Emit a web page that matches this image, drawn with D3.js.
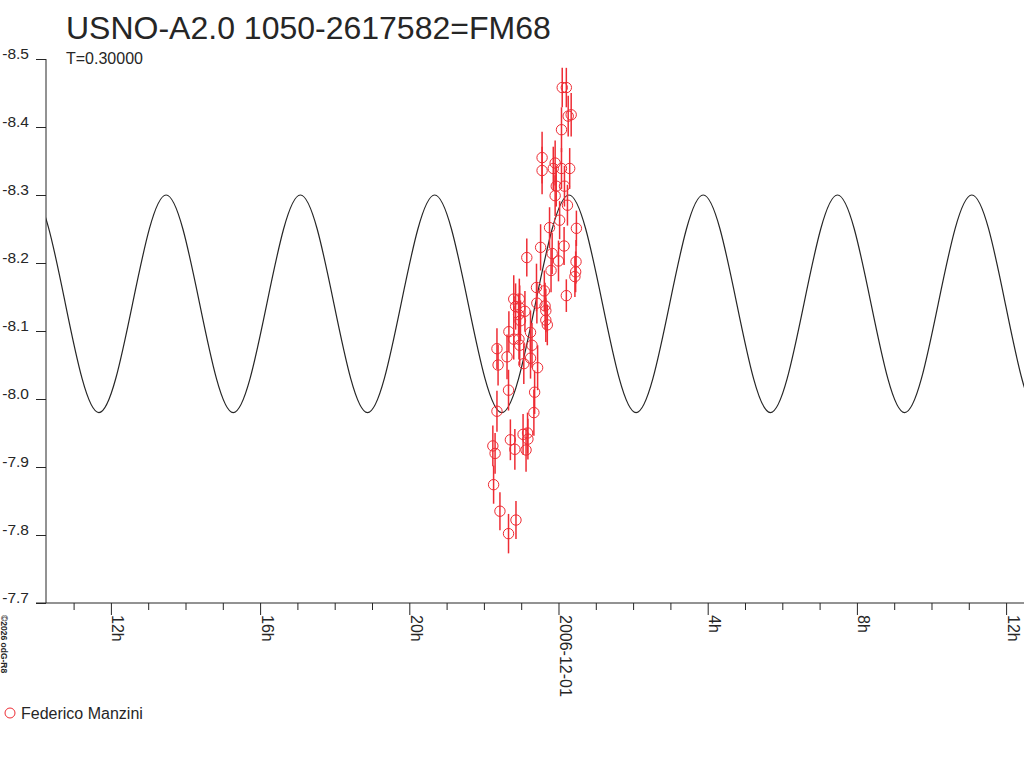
<!DOCTYPE html>
<html>
<head>
<meta charset="utf-8">
<script src="https://cdn.jsdelivr.net/npm/d3@7"></script>
<style>
  body { margin: 0; background: #fff; }
  svg { display: block; font-family: "Liberation Sans", Arial, sans-serif; }
</style>
</head>
<body>
<div id="chart"></div>
<script>
// observations: hours from 2006-12-01 00:00 UT, magnitude, error
const obsHours = [0.10, 0.21, 0.26, 0.34, 0.08, -0.44, -0.44, -0.09, -0.14, 0.08,
  0.30, -0.06, 0.16, -0.09, 0.24, 0.03, -0.24, 0.48, -0.48, 0.15,
  -0.17, -0.85, 0.00, 0.47, -0.20, 0.46, 0.44, -0.59, -0.38, 0.21,
  -1.20, -1.05, -0.58, -1.15, -0.36, -1.04, -0.90, -1.07, -0.34, -1.02,
  -0.34, -0.30, -1.33, -0.75, -1.20, -1.06, -0.71, -1.04, -1.65, -1.38,
  -0.75, -0.93, -1.62, -0.56, -1.34, -0.64, -1.65, -0.66, -1.29, -0.95,
  -0.83, -0.82, -1.76, -1.70, -1.17, -0.87, -1.74, -1.57, -1.14, -1.34];
const obsMags = [-8.458, -8.458, -8.416, -8.418, -8.396, -8.355, -8.336, -8.347, -8.339, -8.339,
  -8.339, -8.313, -8.313, -8.299, -8.285, -8.263, -8.252, -8.251, -8.223, -8.225,
  -8.214, -8.208, -8.203, -8.202, -8.189, -8.187, -8.180, -8.164, -8.159, -8.152,
  -8.147, -8.147, -8.141, -8.136, -8.137, -8.134, -8.129, -8.124, -8.130, -8.115,
  -8.116, -8.109, -8.099, -8.098, -8.088, -8.088, -8.079, -8.079, -8.074, -8.062,
  -8.060, -8.052, -8.050, -8.046, -8.013, -8.010, -7.982, -7.980, -7.940, -7.948,
  -7.950, -7.941, -7.931, -7.920, -7.926, -7.925, -7.874, -7.835, -7.822, -7.802];
const obsErrs = [0.029, 0.029, 0.030, 0.032, 0.033, 0.038, 0.035, 0.033, 0.032, 0.030,
  0.030, 0.030, 0.030, 0.030, 0.030, 0.028, 0.030, 0.026, 0.034, 0.028,
  0.030, 0.028, 0.030, 0.032, 0.032, 0.030, 0.030, 0.035, 0.030, 0.024,
  0.035, 0.030, 0.030, 0.034, 0.034, 0.033, 0.030, 0.030, 0.032, 0.030,
  0.032, 0.030, 0.030, 0.032, 0.030, 0.030, 0.033, 0.030, 0.030, 0.033,
  0.030, 0.030, 0.030, 0.033, 0.030, 0.032, 0.030, 0.034, 0.030, 0.030,
  0.030, 0.030, 0.030, 0.030, 0.030, 0.032, 0.028, 0.028, 0.028, 0.029];

// fitted lightcurve, read at quarter cycles (runs a little past both edges)
const fitHours = [-15.92, -15.02, -14.12, -13.22, -12.32, -11.42, -10.52, -9.62, -8.72, -7.82,
  -6.92, -6.02, -5.12, -4.22, -3.32, -2.42, -1.52, -0.62, 0.28, 1.18,
  2.08, 2.98, 3.88, 4.78, 5.68, 6.58, 7.48, 8.38, 9.28, 10.18,
  11.08, 11.98, 12.88, 13.78, 14.68];
const fitMags = [-7.98, -8.14, -8.30, -8.14, -7.98, -8.14, -8.30, -8.14, -7.98, -8.14,
  -8.30, -8.14, -7.98, -8.14, -8.30, -8.14, -7.98, -8.14, -8.30, -8.14,
  -7.98, -8.14, -8.30, -8.14, -7.98, -8.14, -8.30, -8.14, -7.98, -8.14,
  -8.30, -8.14, -7.98, -8.14, -8.30];

const yTicks = [-8.5, -8.4, -8.3, -8.2, -8.1, -8.0, -7.9, -7.8, -7.7];
const xMajorHours = [-12, -8, -4, 0, 4, 8, 12];
const xMajorLabels = ["12h", "16h", "20h", "2006-12-01", "4h", "8h", "12h"];

const title = "USNO-A2.0 1050-2617582=FM68";
const periodLabel = "T=0.30000";
const observer = "Federico Manzini";
const credit = "\u00a92026 odG-R8";

const width = 1024, height = 768;
const plotLeft = 46, plotRight = 1024, plotTop = 59, plotBottom = 603;
const red = "rgb(238,44,52)";
const ink = "#262626";
const epoch = Date.UTC(2006, 11, 1);
const toDate = h => new Date(epoch + h * 3600e3);

const svg = d3.select("#chart").append("svg")
  .attr("width", width)
  .attr("height", height);

const x = d3.scaleUtc()
  .domain([toDate(-13.74), toDate(12.48)])
  .range([plotLeft, plotRight]);

const y = d3.scaleLinear()
  .domain([-8.5, -7.7])
  .range([plotTop, plotBottom]);

svg.append("defs").append("clipPath").attr("id", "plot")
  .append("rect")
  .attr("x", plotLeft).attr("y", 0)
  .attr("width", plotRight - plotLeft).attr("height", plotBottom);

// fit curve
const line = d3.line()
  .x(d => x(toDate(d[0])))
  .y(d => y(d[1]))
  .curve(d3.curveNatural);

svg.append("path")
  .datum(d3.zip(fitHours, fitMags))
  .attr("clip-path", "url(#plot)")
  .attr("d", line)
  .attr("fill", "none")
  .attr("stroke", ink)
  .attr("stroke-width", 1.2);

// observations
const obs = obsHours.map((h, i) => ({ t: toDate(h), m: obsMags[i], e: obsErrs[i] }));

svg.append("g").selectAll("line")
  .data(obs)
  .enter()
  .append("line")
  .attr("x1", d => x(d.t))
  .attr("x2", d => x(d.t))
  .attr("y1", d => y(d.m - d.e))
  .attr("y2", d => y(d.m + d.e))
  .attr("stroke", red)
  .attr("stroke-width", 1.5);

svg.append("g").selectAll("circle")
  .data(obs)
  .enter()
  .append("circle")
  .attr("cx", d => x(d.t))
  .attr("cy", d => y(d.m))
  .attr("r", 5.2)
  .attr("fill", "none")
  .attr("stroke", red)
  .attr("stroke-width", 1);

// y axis
const yAxis = svg.append("g")
  .attr("transform", `translate(${plotLeft},0)`)
  .call(d3.axisLeft(y).tickValues(yTicks).tickSize(10).tickPadding(7)
    .tickFormat(d => d.toFixed(1)));
yAxis.select(".domain").attr("d", `M0,${plotTop}V${plotBottom}`);
yAxis.selectAll("text")
  .attr("dy", "-0.05em")
  .style("font-size", "15.5px")
  .style("fill", ink);

// x axis: hourly minor ticks, labelled major ticks every 4 h
const minorDates = d3.utcHour.range(toDate(-13.74), toDate(12.48))
  .filter(d => !xMajorHours.some(h => +toDate(h) === +d));

svg.append("g")
  .attr("transform", `translate(0,${plotBottom})`)
  .call(d3.axisBottom(x).tickValues(minorDates).tickSize(7).tickFormat(""))
  .select(".domain").attr("d", `M${plotLeft - 10},0H${plotRight}`);

const xAxis = svg.append("g")
  .attr("transform", `translate(0,${plotBottom})`)
  .call(d3.axisBottom(x).tickValues(xMajorHours.map(toDate)).tickSize(12)
    .tickFormat((d, i) => xMajorLabels[i]));
xAxis.select(".domain").remove();
xAxis.selectAll("text")
  .attr("transform", "rotate(90)")
  .attr("x", 12)
  .attr("y", -1)
  .attr("dy", 0)
  .style("text-anchor", "start")
  .style("font-size", "16px")
  .style("fill", ink);

svg.selectAll(".tick line, .domain").attr("stroke", ink);

// texts
svg.append("text")
  .attr("x", 66).attr("y", 39)
  .style("font-size", "32px")
  .style("fill", ink)
  .text(title);

svg.append("text")
  .attr("x", 66).attr("y", 64)
  .style("font-size", "16px")
  .style("fill", ink)
  .text(periodLabel);

svg.append("text")
  .attr("transform", "translate(1,615) rotate(90)")
  .style("font-size", "8.5px")
  .style("font-weight", "bold")
  .style("fill", ink)
  .text(credit);

// legend
svg.append("circle")
  .attr("cx", 10).attr("cy", 713).attr("r", 5)
  .attr("fill", "none").attr("stroke", red);

svg.append("text")
  .attr("x", 21).attr("y", 719)
  .style("font-size", "16px")
  .style("fill", ink)
  .text(observer);
</script>
</body>
</html>
